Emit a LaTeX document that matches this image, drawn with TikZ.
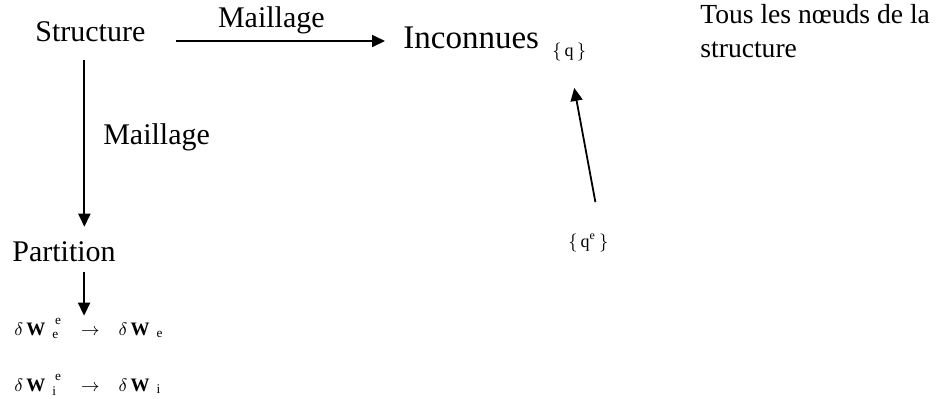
\documentclass[tikz,border=0pt]{standalone}
\usepackage{fontspec}
\setmainfont{Liberation Serif}
\usetikzlibrary{positioning,arrows.meta}
\tikzset{
  lbl/.style={inner sep=0pt, anchor=base west, font=\fontsize{15}{18}\selectfont},
  biglbl/.style={lbl, font=\fontsize{16.5}{20}\selectfont},
  note/.style={inner sep=0pt, anchor=north west, align=left, font=\fontsize{13.8}{17}\selectfont},
  vec/.style={inner sep=0pt, anchor=base west, font=\fontsize{9}{11}\selectfont},
  work/.style={inner sep=0pt, anchor=base west, font=\fontsize{9.5}{11}\selectfont},
  arr/.style={-{Triangle[length=6.5pt,width=6pt]}, line width=0.9pt}
}
\newcommand{\dW}[1]{\delta\hspace{1.5pt}\mathbf{W}\hspace{3.5pt}{}_{\mathrm{#1}}}

\begin{document}
\begin{tikzpicture}[x=0.5pt, y=-0.5pt]
  \useasboundingbox (0,0) rectangle (944,398);

  % top row
  \node[lbl] (struct) at (35,41) {Structure};
  \node[biglbl] (inconnues) at (403,48) {Inconnues};
  \node[vec] (q) at (552,56) {$\{\,\mathrm{q}\,\}$};
  \node[note] (tous) at (700,4) {Tous les n\oe uds de la\\structure};

  % left column
  \node[lbl] (partition) at (12,261) {Partition};
  \node[work] (dwe) at (14,335) {$\dW{e}^{\raisebox{1.5pt}{$\scriptstyle\,\mathrm{e}$}}\hspace{7pt}\rightarrow\hspace{7pt}\dW{e}$};
  \node[work] (dwi) at (14,391) {$\dW{i}^{\raisebox{1.5pt}{$\scriptstyle\,\mathrm{e}$}}\hspace{7pt}\rightarrow\hspace{7pt}\dW{i}$};

  \node[vec] (qe) at (568,247) {$\{\,\mathrm{q}^{\mathrm{e}}\,\}$};

  % connectors
  \draw[arr] ([xshift=15pt]struct.base east) -- ([xshift=-9pt]inconnues.west |- struct.base)
    node[midway, above=3pt, inner sep=0pt, xshift=-4.5pt, font=\fontsize{15}{18}\selectfont] {Maillage};
  \draw[arr] ([xshift=-3pt,yshift=-9pt]struct.south) -- ([xshift=-3pt,yshift=7pt]struct.south |- partition.north)
    node[midway, right=9pt, inner sep=0pt, yshift=3pt, font=\fontsize{15}{18}\selectfont] {Maillage};
  \draw[arr] ([xshift=10pt,yshift=-5pt]partition.south) -- ([xshift=10pt,yshift=1pt]partition.south |- dwe.north);
  \draw[arr] ([xshift=3.5pt,yshift=15.5pt]qe.north) -- ([xshift=2.5pt,yshift=-13.5pt]q.south);
\end{tikzpicture}
\end{document}
